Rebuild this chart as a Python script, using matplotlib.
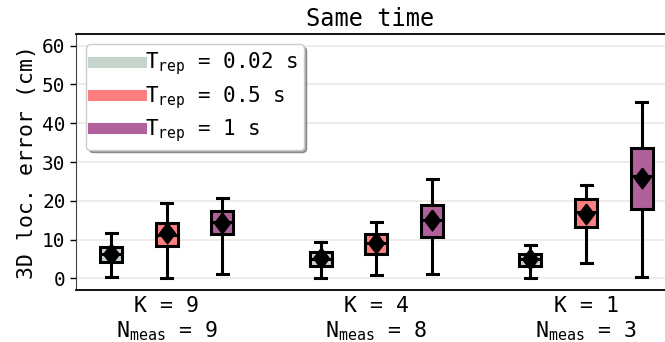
import matplotlib
matplotlib.use("Agg")
import matplotlib.pyplot as plt
from matplotlib.lines import Line2D

plt.rcParams['font.family'] = 'DejaVu Sans Mono'
plt.rcParams['mathtext.fontset'] = 'dejavusans'
plt.rcParams['mathtext.default'] = 'regular'

groups = ['K = 9\n$N_{meas}$ = 9', 'K = 4\n$N_{meas}$ = 8', 'K = 1\n$N_{meas}$ = 3']
series = ['$T_{rep}$ = 0.02 s', '$T_{rep}$ = 0.5 s', '$T_{rep}$ = 1 s']
colors = ['#c5d5cb', '#ff7f80', '#b0619b']

# box statistics per series, one value per group (cm)
whislo = [[0.4, 0.2, 0.05], [0.05, 0.8, 3.9], [1.1, 1.2, 0.4]]
q1 = [[4.3, 3.3, 3.3], [8.3, 6.2, 13.2], [11.4, 10.7, 18.0]]
med = [[6.2, 5.1, 4.9], [11.2, 9.0, 17.2], [14.6, 15.0, 26.4]]
q3 = [[8.1, 6.9, 6.4], [14.2, 11.5, 20.4], [17.4, 19.0, 33.5]]
whishi = [[11.7, 9.3, 8.6], [19.5, 14.6, 24.2], [20.7, 25.5, 45.5]]
means = [[6.4, 5.2, 5.0], [11.6, 9.0, 16.6], [14.4, 15.0, 25.8]]

fig = plt.figure(figsize=(6.65, 3.42), dpi=100)
ax = fig.add_axes([0.1143, 0.152, 0.8857, 0.7486])

# diamond a bit wider than matplotlib's thin one
diamond = [(0, 1), (0.76, 0), (0, -1), (-0.76, 0), (0, 1)]

lw = 2.2
offsets = [-0.265, 0.0, 0.265]
for s in range(3):
    stats = []
    for g in range(3):
        stats.append(dict(whislo=whislo[s][g], q1=q1[s][g], med=med[s][g],
                          q3=q3[s][g], whishi=whishi[s][g], mean=means[s][g],
                          fliers=[]))
    pos = [g + offsets[s] for g in range(3)]
    ax.bxp(stats, positions=pos, widths=0.105, patch_artist=True,
           showmeans=True, showfliers=False, manage_ticks=False,
           boxprops=dict(facecolor=colors[s], edgecolor='black', linewidth=lw),
           medianprops=dict(color='black', linewidth=lw),
           whiskerprops=dict(color='black', linewidth=lw),
           capprops=dict(color='black', linewidth=lw),
           meanprops=dict(marker=diamond, markerfacecolor='black',
                          markeredgecolor='black', markersize=15),
           zorder=3)

ax.set_xlim(-0.434, 2.377)
ax.set_ylim(-3, 63)
ax.set_xticks(range(3))
ax.set_xticklabels(groups, fontsize=15.5)
ax.set_yticks(range(0, 61, 10))
ax.tick_params(axis='y', labelsize=14, length=4, width=1)
ax.tick_params(axis='x', length=0, pad=4)
ax.grid(axis='y', color='#ece9e6', linewidth=1.2, zorder=0)
ax.set_axisbelow(True)
ax.spines['right'].set_visible(False)
ax.spines['left'].set_color('#444444')
for side in ['top', 'bottom']:
    ax.spines[side].set_linewidth(1.3)

ax.set_ylabel('3D loc. error (cm)', fontsize=15.5)
ax.set_title('Same time', fontsize=17)

handles = [Line2D([], [], color=c, linewidth=8) for c in colors]
leg = ax.legend(handles, series, loc='upper left', fontsize=15,
                fancybox=True, shadow=True, framealpha=1,
                handlelength=2.3, handletextpad=0.2, labelspacing=0.3,
                borderaxespad=0.5, borderpad=0.3)
leg.get_frame().set_edgecolor('#cccccc')

fig.savefig('out.png', dpi=100)
